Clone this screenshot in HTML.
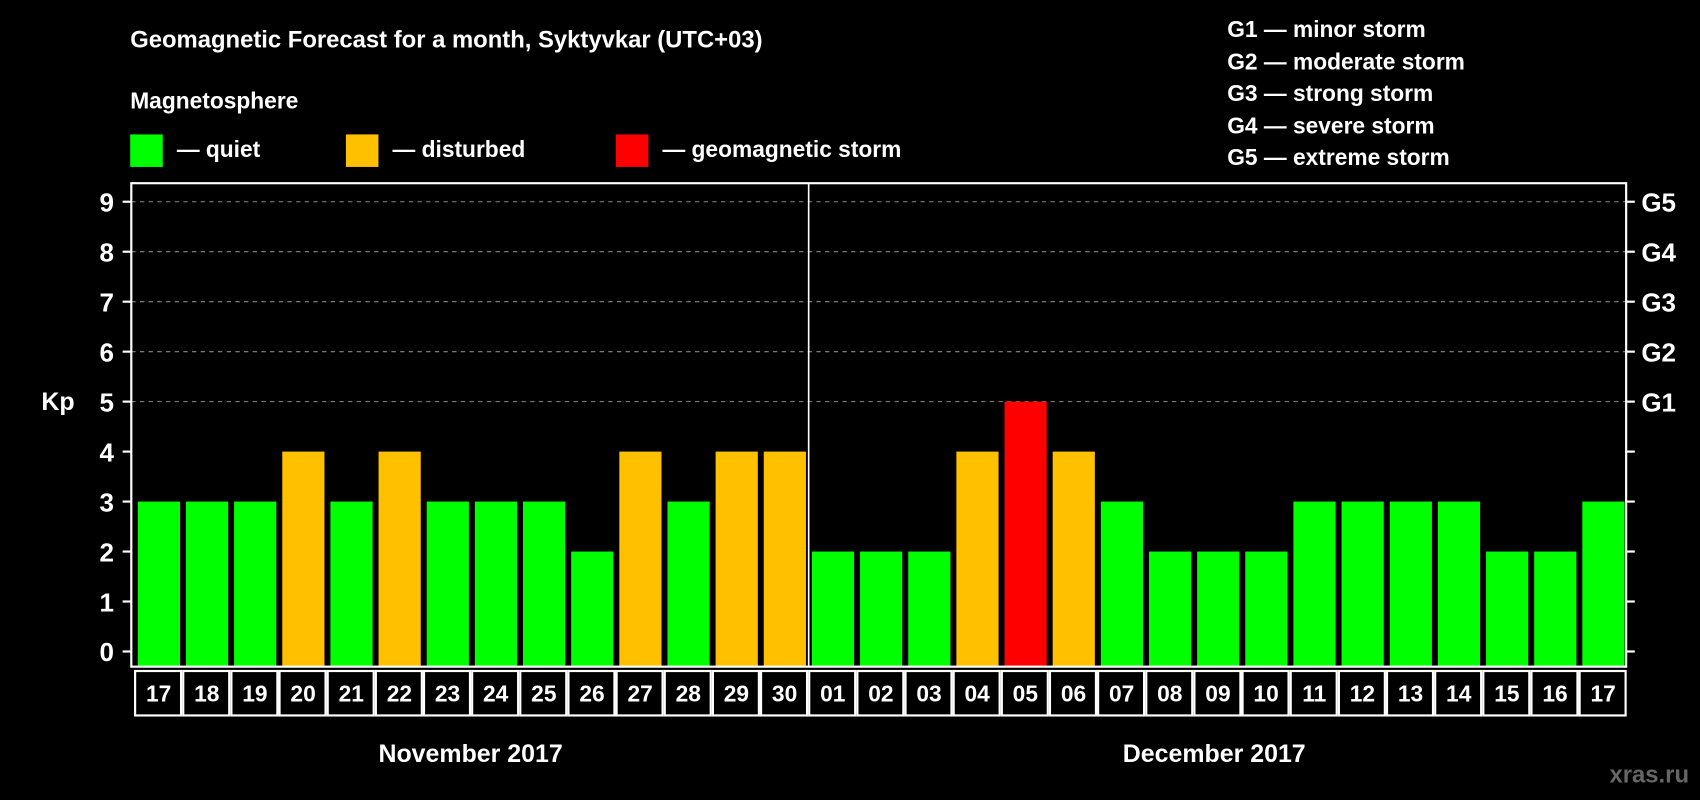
<!DOCTYPE html>
<html><head><meta charset="utf-8"><style>
html,body{margin:0;padding:0;background:#000;}
svg{display:block;font-family:"Liberation Sans",Arial,sans-serif;font-weight:bold;}
</style></head><body>
<svg id="chart" width="1700" height="800" viewBox="0 0 1568 738" xmlns="http://www.w3.org/2000/svg">
<rect width="1568" height="738" fill="#000"/>
<text x="120" y="44" fill="#fff" font-size="22">Geomagnetic Forecast for a month, Syktyvkar (UTC+03)</text>
<text x="120" y="100" fill="#fff" font-size="21">Magnetosphere</text>
<g><rect x="120" y="124" width="30" height="30" fill="#00ff00"/><text x="163" y="145" fill="#fff" font-size="21">— quiet</text></g>
<g><rect x="319" y="124" width="30" height="30" fill="#ffc000"/><text x="362" y="145" fill="#fff" font-size="21">— disturbed</text></g>
<g><rect x="568" y="124" width="30" height="30" fill="#ff0000"/><text x="611" y="145" fill="#fff" font-size="21">— geomagnetic storm</text></g>
<g fill="#fff" font-size="21">
<text x="1132" y="34">G1 — minor storm</text>
<text x="1132" y="64">G2 — moderate storm</text>
<text x="1132" y="93">G3 — strong storm</text>
<text x="1132" y="123">G4 — severe storm</text>
<text x="1132" y="152">G5 — extreme storm</text>
</g>
<text x="38" y="378" fill="#fff" font-size="23">Kp</text>
<g id="grid"></g>
<g id="bars"></g>
<g id="axes"></g>
<g id="dates"></g>
<text x="434" y="703" fill="#fff" font-size="23" text-anchor="middle">November 2017</text>
<text x="1120" y="703" fill="#fff" font-size="23" text-anchor="middle">December 2017</text>
<text x="1558" y="722" fill="#666" font-size="22" text-anchor="end">xras.ru</text>
</svg>
<script>
const days = ["17","18","19","20","21","22","23","24","25","26","27","28","29","30","01","02","03","04","05","06","07","08","09","10","11","12","13","14","15","16","17"];
const kp = [3,3,3,4,3,4,3,3,3,2,4,3,4,4,2,2,2,4,5,4,3,2,2,2,3,3,3,3,2,2,3];
const yTicks = [0,1,2,3,4,5,6,7,8,9];
const gLabels = ["G1","G2","G3","G4","G5"];
const gLevels = [5,6,7,8,9];
const NS="http://www.w3.org/2000/svg";
const L=121,R=1500,T=169,B=615;
const y=v=>601-v*46.1;
const step=(R-L-2)/days.length;
const x=i=>L+1+i*step;
function mk(tag,attrs,parent){const e=document.createElementNS(NS,tag);for(const k in attrs)e.setAttribute(k,attrs[k]);document.getElementById(parent).appendChild(e);return e;}
yTicks.forEach(v=>{
  if(v>=5){const l=mk('line',{x1:L,x2:R,y1:y(v),y2:y(v),stroke:'#888','stroke-dasharray':'4 4','stroke-width':1},'grid');
  
  }
  const t=mk('line',{x1:L-8,x2:L,y1:y(v),y2:y(v),stroke:'#fff','stroke-width':2},'axes');
  
  
  const t2=mk('line',{x1:R,x2:R+8,y1:y(v),y2:y(v),stroke:'#fff','stroke-width':2},'axes');
  
  
  const tx=mk('text',{x:L-16,y:y(v)+9,fill:'#fff','font-size':24,'text-anchor':'end'},'axes');
  tx.textContent=v;
  
  
});
gLabels.forEach((g,i)=>{
  const tx=mk('text',{x:R+14,y:y(gLevels[i])+9,fill:'#fff','font-size':24},'axes');
  tx.textContent=g;
  
  
});
kp.forEach((v,i)=>{
  const c=v>=5?'#ff0000':(v>=4?'#ffc000':'#00ff00');
  const b=mk('rect',{x:x(i)+5,y:y(v),width:step-5.5,height:B-y(v),fill:c},'bars');
  
  
  const cell=mk('rect',{x:x(i)+2.5,y:619,width:step-2,height:41,fill:'none',stroke:'#fff','stroke-width':2},'dates');
  
  
  const tx=mk('text',{x:x(i)+3+step/2-1,y:647,fill:'#fff','font-size':21,'text-anchor':'middle'},'dates');
  tx.textContent=days[i];
  
  
});
const fr=mk('rect',{x:L,y:T,width:R-L,height:B-T,fill:'none',stroke:'#fff','stroke-width':2},'axes');


const dv=mk('line',{x1:x(14)+2,x2:x(14)+2,y1:T,y2:B,stroke:'#fff','stroke-width':1.5},'axes');


</script>
</body></html>
